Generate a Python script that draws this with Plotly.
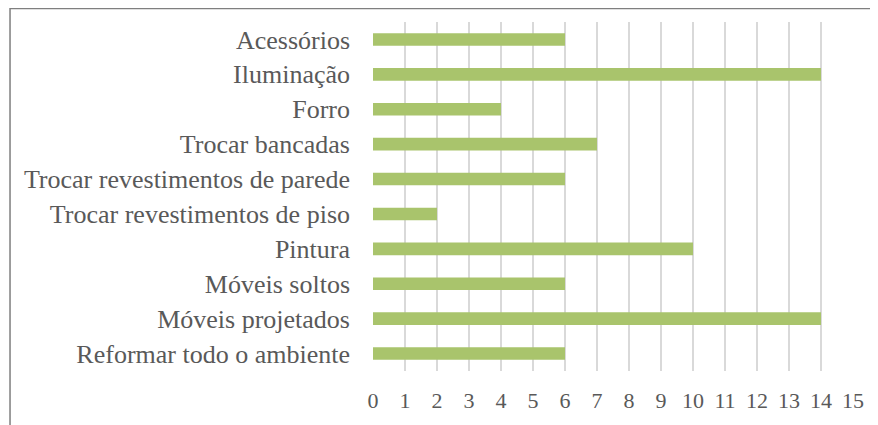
import plotly.graph_objects as go

categories = ['Acessórios', 'Iluminação', 'Forro', 'Trocar bancadas',
              'Trocar revestimentos de parede', 'Trocar revestimentos de piso',
              'Pintura', 'Móveis soltos', 'Móveis projetados', 'Reformar todo o ambiente']
values = [6, 14, 4, 7, 6, 2, 10, 6, 14, 6]
x_ticks = list(range(0, 16))

fig = go.Figure(go.Bar(
    x=values, y=categories, orientation='h',
    marker=dict(color='#A9C46C', line=dict(width=0)),
    width=0.36,
))

font = 'Liberation Serif'
# page body adds an 8px margin, so the figure is sized a bit smaller than the window
fig.update_layout(
    width=870, height=417,
    margin=dict(l=365, r=25, t=14, b=54),
    paper_bgcolor='white', plot_bgcolor='white',
    showlegend=False,
    font=dict(family=font, color='#595959', size=26),
)
fig.update_xaxes(range=[0, 15], tickvals=x_ticks, showgrid=True, gridcolor='#D9D9D9',
                 gridwidth=1.5, zeroline=False, showline=False, ticks='',
                 tickfont=dict(size=22), ticklabelstandoff=14, automargin=False)
fig.update_yaxes(autorange='reversed', showgrid=False, zeroline=False, showline=False,
                 ticks='', tickfont=dict(size=26), ticklabelstandoff=22, automargin=False)

# outer frame (only left and top edges fall inside the picture)
fig.add_shape(type='path', xref='paper', yref='paper',
              path='M -0.7562,-0.3 L -0.7562,1.0387 L 1.05,1.0387',
              line=dict(color='#7F7F7F', width=1.5))

fig.write_html("out.html")
